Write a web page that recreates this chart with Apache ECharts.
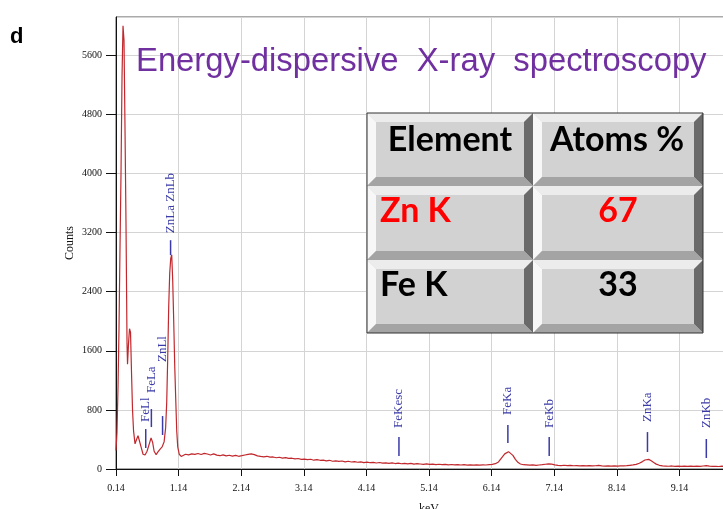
<!DOCTYPE html>
<html>
<head>
<meta charset="utf-8">
<title>EDX spectrum</title>
<script src="https://cdn.jsdelivr.net/npm/echarts@6/dist/echarts.min.js"></script>
<style>
  html, body { margin: 0; padding: 0; background: #ffffff; }
  #chart { width: 723px; height: 509px; }
</style>
</head>
<body>
<div id="chart"></div>
<script>
// ---- Spectrum data: [energy keV, counts] ----
const lowEnergyPeaks = [
  [0.140, 250], [0.156, 500], [0.172, 1100], [0.188, 1900], [0.204, 3000],
  [0.220, 4000], [0.236, 5300], [0.252, 6000], [0.268, 5800], [0.284, 4600],
  [0.300, 3300], [0.316, 1700], [0.324, 1420], [0.340, 1700], [0.356, 1900],
  [0.372, 1850], [0.388, 1300], [0.404, 800], [0.420, 520], [0.444, 340],
  [0.468, 400], [0.492, 450], [0.516, 430], [0.540, 300], [0.572, 200],
  [0.604, 190], [0.636, 240], [0.668, 330], [0.700, 420], [0.725, 360],
  [0.749, 240], [0.781, 195], [0.813, 235], [0.845, 270], [0.877, 300],
  [0.909, 370], [0.933, 560], [0.950, 900], [0.966, 1500], [0.982, 2200],
  [0.998, 2650], [1.014, 2850], [1.030, 2900], [1.046, 2550], [1.062, 2000],
  [1.078, 1400], [1.094, 950], [1.110, 520], [1.126, 300], [1.150, 200],
  [1.182, 170]
];

const backgroundLow = [
  [1.20, 185], [1.25, 200], [1.30, 192], [1.35, 205], [1.40, 198], [1.45, 210],
  [1.50, 196], [1.55, 212], [1.60, 203], [1.65, 190], [1.70, 205], [1.75, 188],
  [1.80, 180], [1.85, 192], [1.90, 178], [1.95, 186], [2.00, 175], [2.05, 184],
  [2.10, 172], [2.15, 180], [2.20, 190], [2.25, 198], [2.30, 205], [2.35, 195],
  [2.40, 178], [2.45, 170], [2.50, 165], [2.55, 172], [2.60, 160], [2.65, 163],
  [2.70, 152], [2.75, 159], [2.80, 147], [2.85, 154], [2.90, 143], [2.95, 146],
  [3.00, 136], [3.05, 142], [3.10, 131], [3.15, 134], [3.20, 127], [3.25, 132],
  [3.30, 119], [3.35, 126], [3.40, 118], [3.45, 121], [3.50, 111], [3.55, 118],
  [3.60, 105], [3.65, 111], [3.70, 104], [3.75, 108], [3.80, 97], [3.85, 105],
  [3.90, 95], [3.95, 99], [4.00, 91], [4.05, 97], [4.10, 87], [4.15, 92],
  [4.20, 85], [4.25, 89], [4.30, 81], [4.35, 88], [4.40, 79], [4.45, 83],
  [4.50, 77]
];

const backgroundMid = [
  [4.55, 82], [4.60, 74], [4.65, 80], [4.70, 71], [4.75, 77], [4.80, 70],
  [4.85, 75], [4.90, 66], [4.95, 72], [5.00, 68], [5.05, 63], [5.10, 70],
  [5.15, 62], [5.20, 66], [5.25, 60], [5.30, 64], [5.35, 58], [5.40, 62],
  [5.45, 57], [5.50, 61], [5.55, 55], [5.60, 60], [5.65, 54], [5.70, 58],
  [5.75, 53], [5.80, 57], [5.85, 52], [5.90, 56], [5.95, 52], [6.00, 55],
  [6.05, 54], [6.10, 58], [6.15, 62]
];

const feKaPeak = [
  [6.20, 72], [6.25, 95], [6.30, 150], [6.35, 205], [6.38, 228], [6.41, 235],
  [6.44, 222], [6.48, 185], [6.52, 130], [6.56, 90], [6.60, 68], [6.65, 58]
];

const backgroundHigh = [
  [6.70, 55], [6.75, 52], [6.80, 56], [6.85, 50], [6.90, 54], [6.95, 58],
  [7.00, 64], [7.05, 70], [7.10, 66], [7.15, 56], [7.20, 50], [7.25, 47],
  [7.30, 51], [7.35, 45], [7.40, 48], [7.45, 44], [7.50, 47], [7.55, 43],
  [7.60, 46], [7.65, 42], [7.70, 45], [7.75, 41], [7.80, 44], [7.85, 48],
  [7.90, 42], [7.95, 40], [8.00, 43], [8.05, 39], [8.10, 42], [8.15, 40],
  [8.20, 43], [8.25, 41], [8.30, 45], [8.35, 50], [8.40, 55]
];

const znKaPeak = [
  [8.45, 62], [8.50, 78], [8.55, 100], [8.59, 122], [8.62, 134], [8.65, 130],
  [8.69, 112], [8.73, 88], [8.77, 66], [8.82, 50], [8.87, 42]
];

const backgroundTail = [
  [8.92, 40], [8.97, 37], [9.02, 41], [9.07, 36], [9.12, 39], [9.17, 35],
  [9.22, 38], [9.27, 36], [9.32, 40], [9.37, 35], [9.42, 38], [9.47, 36],
  [9.52, 41], [9.57, 46], [9.62, 40], [9.67, 35], [9.72, 37], [9.77, 34],
  [9.82, 38], [9.87, 33], [9.92, 36], [9.97, 34], [10.02, 37], [10.07, 33],
  [10.14, 35]
];

// ---- Line identification markers ----
const peakNames   = ['FeLl', 'FeLa', 'ZnLl', 'ZnLa ZnLb', 'FeKesc', 'FeKa', 'FeKb', 'ZnKa', 'ZnKb'];
const peakKeV     = [0.615, 0.705, 0.884, 1.012, 4.66, 6.40, 7.06, 8.63, 9.57];
const markerLow   = [284, 568, 460, 2895, 176, 352, 176, 230, 149];
const markerHigh  = [541, 812, 717, 3098, 433, 595, 433, 500, 406];
const labelBottom = [636, 1028, 1448, 3193, 555, 731, 555, 636, 555];

// ---- Composition table ----
const tableHeader   = ['Element', 'Atoms %'];
const tableElements = ['Zn K', 'Fe K'];
const tableAtoms    = [67, 33];
const tableColors   = ['#ff0000', '#000000'];

// ---- Axis ticks ----
const xTickStart = 0.14, xTickStep = 1, xEnd = 10.14;
const yTickStep = 800, yEnd = 6120;

const spectrum = [].concat(lowEnergyPeaks, backgroundLow, backgroundMid, feKaPeak,
                           backgroundHigh, znKaPeak, backgroundTail);

const markerData = peakKeV.map((e, i) => [e, markerLow[i], markerHigh[i], labelBottom[i]]);

const TABLE_Z = 100;

// Beveled "button" cell for the table
function bevelCell(x, y, w, h) {
  const b = 9;
  const z = TABLE_Z;
  return [
    { type: 'rect', z, shape: { x, y, width: w, height: h }, style: { fill: '#d2d2d2' } },
    { type: 'polygon', z, shape: { points: [[x, y], [x + w, y], [x + w - b, y + b], [x + b, y + b]] },
      style: { fill: '#ececec' } },
    { type: 'polygon', z, shape: { points: [[x, y], [x + b, y + b], [x + b, y + h - b], [x, y + h]] },
      style: { fill: '#f7f7f7' } },
    { type: 'polygon', z, shape: { points: [[x + w, y], [x + w, y + h], [x + w - b, y + h - b], [x + w - b, y + b]] },
      style: { fill: '#6a6a6a' } },
    { type: 'polygon', z, shape: { points: [[x, y + h], [x + b, y + h - b], [x + w - b, y + h - b], [x + w, y + h]] },
      style: { fill: '#a4a4a4' } }
  ];
}

function buildTable() {
  const colX = [367, 533], colW = [166, 170];
  const rowY = [113, 186, 260], rowH = [73, 74, 73];
  const font = 'bold 34px Lato, "Liberation Sans", sans-serif';
  const z = TABLE_Z + 1;
  const items = [];
  for (let r = 0; r < 3; r++) {
    for (let c = 0; c < 2; c++) {
      items.push(...bevelCell(colX[c], rowY[r], colW[c], rowH[r]));
    }
  }
  items.push({ type: 'rect', z, shape: { x: 367, y: 113, width: 336, height: 220 },
    style: { fill: 'none', stroke: '#333333', lineWidth: 1 } });
  // header
  items.push({ type: 'text', z, x: 450, y: 140,
    style: { text: tableHeader[0], font, fill: '#000', align: 'center', verticalAlign: 'middle' } });
  items.push({ type: 'text', z, x: 617, y: 140,
    style: { text: tableHeader[1], font, fill: '#000', align: 'center', verticalAlign: 'middle' } });
  // rows
  for (let i = 0; i < tableElements.length; i++) {
    const cy = rowY[i + 1] + 25;
    items.push({ type: 'text', z, x: 380, y: cy,
      style: { text: tableElements[i], font, fill: tableColors[i], align: 'left', verticalAlign: 'middle' } });
    items.push({ type: 'text', z, x: 618, y: cy,
      style: { text: String(tableAtoms[i]), font, fill: tableColors[i], align: 'center', verticalAlign: 'middle' } });
  }
  return items;
}

const chart = echarts.init(document.getElementById('chart'), null, { renderer: 'canvas' });

const serif = '"Liberation Serif", "Times New Roman", serif';

chart.setOption({
  animation: false,
  backgroundColor: '#ffffff',
  grid: {
    left: 116, top: 17, right: -19, bottom: 40,
    outerBoundsMode: 'none', containLabel: false,
    show: true, borderColor: '#555555', borderWidth: 1, backgroundColor: 'transparent'
  },
  xAxis: {
    type: 'value',
    min: xTickStart, max: xEnd, interval: xTickStep,
    name: 'keV', nameLocation: 'middle', nameGap: 34,
    nameTextStyle: { fontFamily: serif, fontSize: 12, color: '#111' },
    axisLine: { show: true, onZero: false, lineStyle: { color: '#111', width: 1 } },
    axisTick: { show: true, length: 7, lineStyle: { color: '#111' } },
    axisLabel: {
      margin: 14, fontFamily: serif, fontSize: 10, color: '#111',
      formatter: v => v.toFixed(2)
    },
    splitLine: { show: true, lineStyle: { color: '#d4d4d4', width: 1 } }
  },
  yAxis: {
    type: 'value',
    min: 0, max: yEnd, interval: yTickStep,
    name: 'Counts', nameLocation: 'middle', nameGap: 40, nameRotate: 90,
    nameMoveOverlap: false,
    nameTextStyle: { fontFamily: serif, fontSize: 12, color: '#111' },
    axisLine: { show: true, lineStyle: { color: '#111', width: 1 } },
    axisTick: { show: true, length: 10, lineStyle: { color: '#111' } },
    axisLabel: {
      margin: 14, fontFamily: serif, fontSize: 10, color: '#111', showMaxLabel: false,
      formatter: v => String(Math.round(v))
    },
    splitLine: { show: true, lineStyle: { color: '#d4d4d4', width: 1 } }
  },
  series: [
    {
      type: 'line',
      data: spectrum,
      showSymbol: false,
      symbol: 'none',
      lineStyle: { color: '#c0282d', width: 1.2 },
      z: 3
    },
    {
      type: 'custom',
      data: markerData,
      z: 4,
      renderItem: function (params, api) {
        const e = api.value(0);
        const p1 = api.coord([e, api.value(1)]);
        const p2 = api.coord([e, api.value(2)]);
        const pt = api.coord([e, api.value(3)]);
        return {
          type: 'group',
          children: [
            { type: 'line', shape: { x1: p1[0], y1: p1[1], x2: p2[0], y2: p2[1] },
              style: { stroke: '#3a3aa8', lineWidth: 1.5 } },
            { type: 'text', x: pt[0], y: pt[1], rotation: Math.PI / 2,
              style: { text: peakNames[params.dataIndex], fill: '#3a3aa8',
                       font: '13px ' + serif, align: 'left', verticalAlign: 'middle' } }
          ]
        };
      }
    }
  ],
  graphic: [
    { type: 'text', x: 10, y: 37, z: TABLE_Z,
      style: { text: 'd', font: 'bold 22px "Liberation Sans", Arial, sans-serif', fill: '#000',
               align: 'left', verticalAlign: 'middle' } },
    { type: 'text', x: 136, y: 62, z: TABLE_Z,
      style: { text: 'Energy-dispersive  X-ray  spectroscopy',
               font: '32.8px "Liberation Sans", Arial, sans-serif', fill: '#7030a0',
               align: 'left', verticalAlign: 'middle' } }
  ].concat(buildTable())
});
</script>
</body>
</html>
